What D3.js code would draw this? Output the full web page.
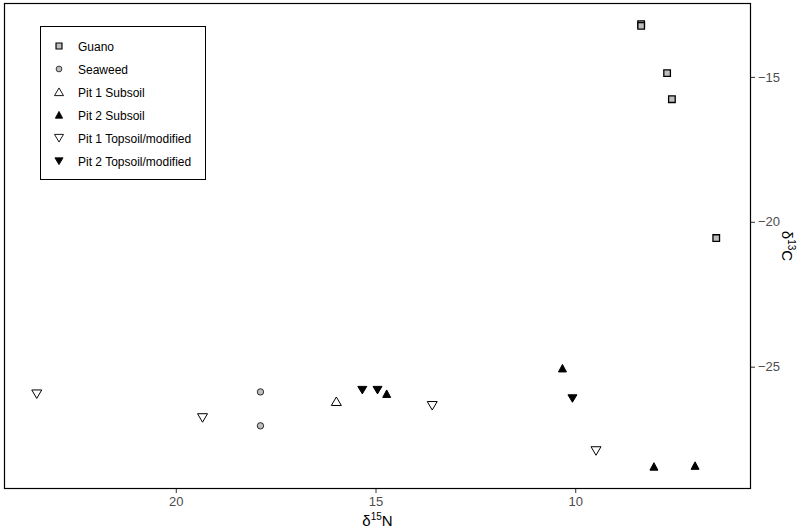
<!DOCTYPE html>
<html>
<head>
<meta charset="utf-8">
<script src="https://cdn.jsdelivr.net/npm/d3@7"></script>
<style>
  body { margin: 0; background: #fff; }
  svg { display: block; font-family: "Liberation Sans", Arial, sans-serif; }
</style>
</head>
<body>
<div id="chart"></div>
<script>
// series: [d15N, d13C]
var guano = [[8.35, -13.18], [8.35, -13.24], [7.7, -14.87], [7.58, -15.77], [6.47, -20.56]];
var seaweed = [[17.88, -25.87], [17.88, -27.04]];
var pit1Subsoil = [[15.98, -26.2]];
var pit2Subsoil = [[14.72, -25.94], [10.32, -25.06], [8.03, -28.45], [7.0, -28.42]];
var pit1Topsoil = [[23.48, -25.94], [19.33, -26.76], [13.58, -26.34], [9.48, -27.9]];
var pit2Topsoil = [[15.33, -25.8], [14.95, -25.8], [10.07, -26.09]];

var xTicks = [20, 15, 10];
var yTicks = [-15, -20, -25];
var xDomain = [24.3, 5.6];
var yDomain = [-29.22, -12.45];

var series = [
  { name: "Guano", data: guano, shape: "square", fill: "#bebebe" },
  { name: "Seaweed", data: seaweed, shape: "circle", fill: "#bebebe" },
  { name: "Pit 1 Subsoil", data: pit1Subsoil, shape: "up", fill: "#fff" },
  { name: "Pit 2 Subsoil", data: pit2Subsoil, shape: "upFilled", fill: "#000" },
  { name: "Pit 1 Topsoil/modified", data: pit1Topsoil, shape: "down", fill: "#fff" },
  { name: "Pit 2 Topsoil/modified", data: pit2Topsoil, shape: "downFilled", fill: "#000" }
];

var width = 800, height = 532;
var margin = { top: 3, right: 49, bottom: 43, left: 4 };

var svg = d3.select("#chart").append("svg")
    .attr("width", width)
    .attr("height", height);

var x = d3.scaleLinear().domain(xDomain).range([margin.left, width - margin.right]);
var y = d3.scaleLinear().domain(yDomain).range([height - margin.bottom, margin.top]);

// symbol paths centred on 0,0
function shapePath(shape) {
  if (shape == "square") return "M-3.3,-3.3H3.3V3.3H-3.3Z";
  if (shape == "up") return "M0,-4.5L5,4H-5Z";
  if (shape == "down") return "M0,4.5L5,-4H-5Z";
  if (shape == "upFilled") return "M0,-4L4,3.5H-4Z";
  if (shape == "downFilled") return "M0,4L4.5,-3.5H-4.5Z";
  return null;
}

function drawMark(g, s) {
  if (s.shape == "circle") {
    g.append("circle").attr("r", 3.2)
      .attr("fill", s.fill).attr("stroke", "#000").attr("stroke-width", 0.8);
  } else {
    g.append("path").attr("d", shapePath(s.shape))
      .attr("fill", s.fill).attr("stroke", "#000")
      .attr("stroke-width", s.shape == "square" ? 1.3 : 1);
  }
}

// x axis
var xAxis = svg.append("g")
    .attr("transform", "translate(0," + (height - margin.bottom) + ")")
    .call(d3.axisBottom(x).tickValues(xTicks).tickSize(4).tickPadding(4));
// y axis on the right
var yAxis = svg.append("g")
    .attr("transform", "translate(" + (width - margin.right) + ",0)")
    .call(d3.axisRight(y).tickValues(yTicks).tickSize(4).tickPadding(3).tickFormat(d3.format("d")));

[xAxis, yAxis].forEach(function(a) {
  a.select(".domain").remove();
  a.selectAll(".tick line").attr("stroke", "#333");
  a.selectAll("text")
    .attr("fill", "#4d4d4d")
    .style("font-size", "13px")
    .style("font-family", "Liberation Sans, Arial, sans-serif");
});

// frame
svg.append("rect")
    .attr("x", margin.left + 0.5)
    .attr("y", margin.top + 0.5)
    .attr("width", width - margin.left - margin.right - 1)
    .attr("height", height - margin.top - margin.bottom - 1)
    .attr("fill", "none")
    .attr("stroke", "#000")
    .attr("stroke-width", 1.2);

// points
series.forEach(function(s) {
  s.data.forEach(function(d) {
    var g = svg.append("g")
      .attr("transform", "translate(" + x(d[0]) + "," + y(d[1]) + ")");
    drawMark(g, s);
  });
});

// axis titles
var xt = svg.append("text")
    .attr("x", (x.range()[0] + x.range()[1]) / 2)
    .attr("y", 526)
    .attr("text-anchor", "middle")
    .style("font-size", "15px");
xt.append("tspan").text("δ");
xt.append("tspan").attr("dy", -6).style("font-size", "10px").text("15");
xt.append("tspan").attr("dy", 6).text("N");

var yt = svg.append("text")
    .attr("transform", "translate(782," + ((y.range()[0] + y.range()[1]) / 2) + ") rotate(90)")
    .attr("text-anchor", "middle")
    .style("font-size", "15px");
yt.append("tspan").text("δ");
yt.append("tspan").attr("dy", -6).style("font-size", "10px").text("13");
yt.append("tspan").attr("dy", 6).text("C");

// legend
var legend = svg.append("g");
legend.append("rect")
    .attr("x", 40.5).attr("y", 26.5)
    .attr("width", 165).attr("height", 153)
    .attr("fill", "#fff").attr("stroke", "#000").attr("stroke-width", 1);

series.forEach(function(s, i) {
  var row = legend.append("g").attr("transform", "translate(0," + (46 + i * 23) + ")");
  var m = row.append("g").attr("transform", "translate(59,0) scale(0.9)");
  drawMark(m, s);
  row.append("text")
    .attr("x", 78).attr("y", 4.5)
    .style("font-size", "12px")
    .text(s.name);
});
</script>
</body>
</html>
